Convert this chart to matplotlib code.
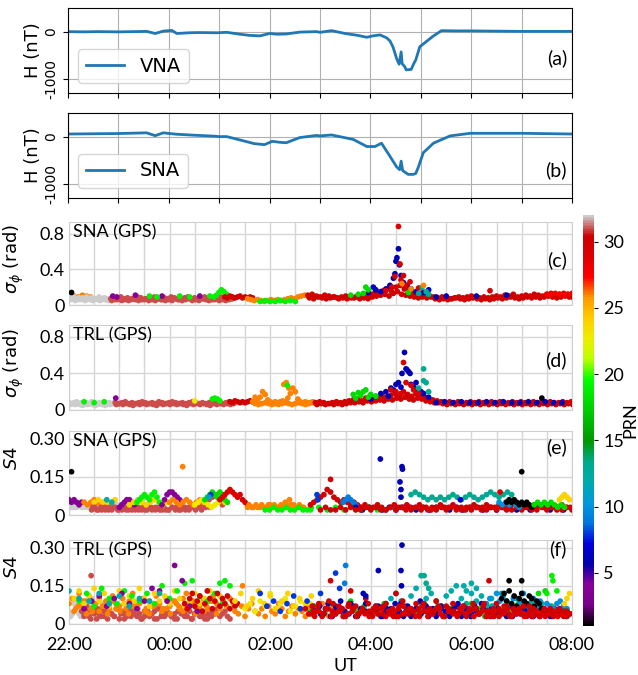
import matplotlib
matplotlib.use("Agg")
import matplotlib.pyplot as plt
from matplotlib.colors import Normalize
from matplotlib.cm import ScalarMappable

# ---------------- magnetometer data (hours after 22:00 UT, H in nT) -------------
vna_t = [0, 0.3, 0.6, 1.0, 1.3, 1.56, 1.73, 1.89, 2.06, 2.16, 2.4, 2.6, 2.95, 3.15, 3.41,
         3.6, 3.81, 4.0, 4.14, 4.33, 4.6, 4.93, 5.0, 5.23, 5.5, 5.75, 5.93, 6.05, 6.19, 6.32,
         6.39, 6.45, 6.52, 6.57, 6.61, 6.63, 6.68, 6.71, 6.81, 6.86, 6.9, 6.98, 7.11, 7.24,
         7.41, 7.7, 7.98, 8.5, 9.0, 9.5, 10.0]
vna_h = [0, -5, 0, -5, 0, 5, -40, 10, 25, -40, -25, -20, -25, -15, -55,
         -80, -90, -40, -55, -50, -10, 0, -15, 20, -40, -80, -120, -90, -70, -130,
         -200, -330, -570, -690, -430, -680, -740, -810, -800, -680, -600, -320, -210, -100,
         20, 15, 15, 10, 5, 5, 5]
sna_t = [0, 0.5, 1.0, 1.56, 1.73, 1.89, 2.06, 2.16, 2.5, 2.9, 3.0, 3.15, 3.41, 3.7, 3.9,
         4.05, 4.2, 4.33, 4.6, 4.93, 5.0, 5.23, 5.66, 5.93, 6.09, 6.22, 6.39, 6.52, 6.58,
         6.61, 6.64, 6.75, 6.85, 6.9, 6.95, 7.05, 7.25, 7.58, 7.98, 9.0, 10.0]
sna_h = [55, 60, 65, 80, 20, 80, 60, 50, 30, 10, 0, 0, -70, -150, -170,
         -100, -120, -130, -20, 25, 15, 35, -60, -210, -210, -140, -420, -640, -700,
         -520, -720, -800, -800, -780, -650, -340, -140, 15, 70, 70, 55]

# ---------------- scintillation tracks: (PRN, start hour, step [min], values x100) ----
# (c) SNA sigma_phi
c_tracks = [
    (26, 0.10, 5, [10, 9, 11, 10, 9]),
    (32, 0.00, 3, [8, 7, 9, 6, 8, 7, 6, 9, 7, 8, 6, 7, 9, 6, 8, 7, 6]),
    (32, 0.02, 3, [6, 8, 5, 7, 6, 8, 5, 7, 6, 5, 7, 6, 5, 7, 6, 5, 6]),
    (31, 0.83, 4, [7, 8, 6, 9, 7, 8, 6, 7, 9, 8, 6, 7, 8, 9, 7, 6, 8, 7, 9, 8, 6, 7, 8, 9, 7, 8, 6, 7, 9, 8, 7, 6, 8, 9, 7, 8, 7]),
    (31, 0.85, 4, [5, 6, 7, 5, 6, 5, 7, 6, 5, 6, 7, 5, 6, 5, 7, 6, 5, 6, 5, 7, 6, 5, 6, 7, 5, 6, 5, 7, 6, 5, 6, 7, 5, 6, 5, 6, 7]),
    (19, 2.88, 3, [9, 11, 14, 17, 15, 12, 9]),
    (30, 3.10, 3, [9, 8, 10, 9, 8, 9, 10, 8, 9, 8, 9, 8]),
    (26, 3.55, 4, [7, 6, 5, 6, 5, 4, 5, 6, 5, 6, 5, 6, 7, 8, 7, 9, 10, 11, 10, 9]),
    (19, 3.80, 6, [4, 5, 4, 4, 5, 4, 5, 4]),
    (30, 4.75, 5, [11, 12, 10, 9, 11, 10, 9, 8, 9, 10, 9, 8, 9, 10, 11,
                   12, 14, 13, 16, 18, 15, 20, 22, 18, 16, 14, 12, 13, 11, 10,
                   9, 8, 9, 8, 7, 8, 9, 8, 9, 10, 9, 8, 9, 8, 9,
                   10, 9, 11, 10, 12, 9, 10, 11, 10, 12, 11, 10, 12, 13, 11, 12, 13, 12, 11]),
    (30, 4.78, 5, [8, 7, 9, 8, 7, 8, 9, 7, 8, 7, 8, 9, 7, 8, 7,
                   9, 10, 11, 12, 10, 13, 15, 12, 11, 10, 9, 8, 9, 8, 9,
                   7, 6, 7, 6, 7, 8, 7, 6, 7, 8, 7, 6, 7, 6, 7,
                   8, 7, 8, 9, 8, 7, 8, 9, 8, 9, 8, 9, 10, 9, 8, 9, 10, 9, 8]),
    (28, 9.50, 5, [12, 11, 13, 12, 11, 12, 13]),
]
c_ev_t = [0.05, 0.87, 0.95, 1.32, 1.85, 2.6, 1.6, 1.75, 2.2, 2.4, 2.8,
          5.95, 6.05, 6.1, 6.2, 6.3, 6.38, 6.45, 6.48, 6.5, 6.52, 6.55, 6.57, 6.6, 6.65, 6.72, 6.8, 6.9, 7.05, 7.15,
          6.55, 6.58, 6.48, 6.65, 6.78, 6.7, 6.42, 6.3, 6.95, 6.6, 8.37,
          5.9, 5.95, 5.75, 5.6, 6.75, 5.85,
          7.02, 7.1, 6.95, 7.15, 7.05, 6.62, 6.8, 7.3, 7.5, 8.1, 8.7]
c_ev_v = [14, 10, 9, 11, 10, 10, 10, 9, 10, 9, 10,
          14, 20, 17, 15, 18, 22, 30, 35, 49, 53, 63, 45, 33, 25, 22, 18, 15, 14, 17,
          88, 46, 32, 33, 26, 22, 20, 16, 19, 28, 16,
          20, 17, 12, 11, 14, 13,
          20, 15, 13, 12, 22, 24, 18, 9, 10, 10, 11]
c_ev_p = [1, 4, 4, 4, 4, 4, 19, 19, 19, 19, 19,
          6, 6, 6, 6, 6, 6, 6, 6, 6, 6, 6, 6, 6, 6, 6, 6, 6, 6, 6,
          29, 29, 29, 29, 29, 29, 29, 29, 29, 29, 29,
          18, 18, 18, 18, 18, 18,
          13, 13, 13, 13, 26, 26, 26, 6, 6, 6, 6]

# (d) TRL sigma_phi
d_tracks = [
    (32, 0.00, 3, [8, 7, 8, 9, 7, 8, 6, 8, 7, 9, 8, 7, 8, 7, 8, 7, 8, 7, 8]),
    (32, 0.02, 3, [6, 7, 6, 7, 6, 5, 7, 6, 7, 6, 5, 6, 7, 6, 5, 7, 6, 7]),
    (31, 0.92, 4, [8, 7, 8, 9, 7, 8, 7, 8, 9, 8, 7, 8, 7, 9, 8, 7, 8, 9, 8, 7, 8, 7, 8, 9, 8, 7, 8, 7, 8, 9, 8, 8, 7, 8, 9, 8]),
    (31, 0.94, 4, [6, 7, 6, 7, 6, 5, 7, 6, 7, 6, 7, 6, 5, 7, 6, 7, 6, 7, 6, 7, 6, 5, 7, 6, 7, 6, 7, 6, 5, 7, 6, 7, 6, 7, 6, 7]),
    (30, 3.20, 3, [9, 8, 10, 9, 8, 9, 8, 9, 10, 9]),
    (26, 3.65, 3, [9, 8, 10, 14, 20, 17, 11, 9, 8, 9, 8, 9, 10, 9, 13, 18, 24, 20, 12, 9, 8, 9, 8, 8, 9, 8]),
    (26, 3.70, 4, [7, 6, 7, 8, 7, 6, 7, 6, 7, 8, 7, 6, 7, 8, 7, 6, 7, 8, 7]),
    (30, 4.90, 5, [8, 9, 8, 7, 8, 9, 8, 9, 10,
                   11, 12, 10, 13, 14, 12, 13, 15, 14, 16,
                   18, 16, 20, 17, 15, 18, 16, 14, 12, 11, 10,
                   9, 8, 9, 8, 9, 8, 8, 9, 8, 9, 8, 8, 9, 8, 9, 8, 8, 9, 8, 9, 8, 8, 9, 8, 9, 8, 9, 8, 8, 9, 8, 9]),
    (30, 4.93, 5, [6, 7, 6, 7, 6, 7, 6, 7, 8,
                   8, 9, 8, 10, 9, 10, 11, 10, 12, 11,
                   13, 12, 14, 12, 11, 13, 12, 10, 9, 8, 8,
                   7, 6, 7, 6, 7, 6, 7, 6, 7, 6, 7, 6, 7, 6, 7, 6, 7, 6, 7, 6, 7, 6, 7, 6, 7, 6, 7, 6, 7, 6, 7, 6]),
    (6, 7.30, 10, [8, 9, 8, 9, 8, 8, 9, 8, 9, 8, 8, 9, 8, 9, 8, 8]),
]
d_ev_t = [0.3, 0.5, 0.7, 0.93, 2.85, 2.9, 2.95, 3.0, 4.27, 4.32, 4.37, 3.7, 4.34, 2.5,
          6.0, 6.1, 6.2, 6.3, 6.35, 6.4, 6.45, 6.5, 6.55, 6.6, 6.62, 6.67, 6.7, 6.72, 6.75, 6.78, 6.8, 6.85, 6.9, 6.95, 7.0, 7.05, 7.15,
          6.65, 6.5, 6.7, 6.4, 6.8, 6.6, 6.85, 6.95,
          5.65, 5.75, 5.85, 5.9, 5.8, 6.0, 6.1, 5.7, 5.95,
          7.05, 7.05, 7.1, 6.95, 7.15, 9.4]
d_ev_v = [9, 8, 9, 13, 12, 13, 12, 10, 28, 30, 24, 14, 27, 10,
          12, 15, 18, 20, 15, 24, 22, 28, 30, 25, 40, 63, 45, 44, 42, 40, 28, 25, 30, 22, 20, 18, 14,
          52, 20, 30, 22, 27, 18, 22, 19,
          17, 19, 20, 22, 16, 17, 15, 13, 14,
          45, 32, 30, 24, 20, 13]
d_ev_p = [19, 19, 19, 4, 19, 19, 19, 19, 26, 26, 26, 26, 19, 23,
          6, 6, 6, 6, 6, 6, 6, 6, 6, 6, 6, 6, 6, 6, 6, 6, 6, 6, 6, 6, 6, 6, 6,
          29, 29, 29, 29, 29, 29, 29, 29,
          18, 18, 18, 18, 18, 18, 18, 18, 18,
          13, 13, 13, 13, 13, 1]

# (e) SNA S4
e_tracks = [
    (32, 0.00, 3, [4, 3, 5, 3, 4, 3, 5, 4, 3, 4, 5, 3, 4, 5, 4, 3, 4, 5, 3, 4, 3, 4]),
    (32, 0.02, 3, [3, 4, 3, 4, 5, 4, 3, 3, 4, 5, 4, 3, 3, 4, 3, 5, 3, 4, 4, 3, 4]),
    (4, 0.00, 3, [6, 5, 6, 5, 4, 5]),
    (26, 0.30, 4, [5, 4, 5, 6, 5, 4, 5]),
    (24, 0.50, 5, [5, 6, 5, 4, 5, 6]),
    (31, 0.45, 4, [2, 3, 2, 2, 3, 2, 2, 3, 2, 2, 3, 2, 2, 2, 3, 2, 2, 3, 2, 2, 3, 2, 2, 2, 3, 2, 2, 3, 2, 3, 3, 2, 3, 4, 5, 6, 7, 8, 6, 4]),
    (31, 0.47, 5, [3, 2, 3, 2, 3, 3, 2, 3, 2, 3, 3, 2, 3, 2, 3, 3, 2, 3, 2, 3, 3, 2, 3, 2, 3, 3, 2, 3, 3]),
    (4, 1.00, 3, [3, 4, 5, 6, 6, 5, 4]),
    (24, 1.20, 5, [4, 5, 6, 5, 4, 5, 6, 5, 4, 5]),
    (19, 1.35, 3, [5, 6, 7, 8, 7, 6, 8, 9, 7, 5]),
    (4, 1.85, 3, [4, 6, 8, 9, 9, 8, 7, 6, 5]),
    (26, 2.00, 4, [5, 6, 5, 4, 5, 6, 5, 4, 5, 6, 5]),
    (23, 2.50, 4, [4, 5, 6, 5, 4, 3, 4, 5, 6, 5]),
    (18, 2.70, 3, [6, 7, 8, 9, 8, 7, 9, 8, 6, 5]),
    (29, 3.00, 3, [6, 7, 8, 9, 10, 9, 8, 7, 8, 6, 5, 4]),
    (26, 3.55, 5, [3, 3, 4, 3, 3, 4, 3, 3, 4, 5, 6, 4, 3, 3]),
    (26, 3.58, 5, [4, 3, 3, 4, 3, 4, 4, 3, 3, 4, 4, 3, 4, 3]),
    (19, 3.90, 5, [2, 2, 3, 2, 2, 3, 2, 2, 3, 2, 2, 3]),
    (19, 4.80, 10, [2, 3, 2, 3, 2, 3, 2, 3, 2]),
    (30, 4.80, 4, [4, 5, 6, 7, 8, 10, 9, 7, 6, 5, 6, 5, 4, 5, 4, 3]),
    (9, 5.45, 3, [5, 6, 7, 6, 5, 4]),
    (6, 5.70, 8, [3, 2, 3, 3, 2, 3, 2, 3, 3, 2, 3, 2, 3, 3, 2, 3, 2, 3, 3, 2, 3, 2, 3, 3, 2, 3, 2, 3, 3, 2, 3, 2]),
    (13, 6.80, 5, [8, 9, 8, 7, 6, 7, 6, 7, 6, 7, 8, 7, 6, 7, 8, 7, 6, 7, 8, 9, 8, 7, 8, 9, 8]),
    (30, 5.80, 5, [3, 4, 3, 3, 4, 3, 2, 3, 4, 3, 3, 4, 3, 3, 4, 3, 2, 3, 3, 4, 3, 3, 4, 3, 3, 2, 3, 4, 3, 3, 4, 3, 3, 4, 3, 3, 4, 5, 4, 3, 4, 3, 3, 4, 3, 4, 3, 3, 4, 3, 3]),
    (30, 5.00, 6, [2, 3, 2, 2, 3, 2, 3, 2, 2, 3, 2, 3, 2, 2, 3, 2, 3, 2, 2, 3, 2, 3, 2, 2, 3, 2, 3, 2, 2, 3, 2, 3, 2, 2, 3, 2, 3, 2, 2, 3, 2, 3, 2, 2, 3, 2, 3, 2, 2, 3, 2]),
    (10, 8.55, 4, [5, 4, 5, 4, 5, 4, 3]),
    (1, 8.70, 3, [5, 6, 5, 6, 5, 4, 5, 4, 5, 4, 3, 4]),
    (18, 9.25, 4, [4, 5, 4, 5, 4, 5, 4, 3, 4, 3]),
    (24, 9.75, 3, [6, 7, 8, 7, 6]),
]
e_ev_t = [0.05, 0.75, 0.85, 2.26, 2.82, 2.78, 4.93, 4.95, 5.2,
          6.19, 6.62, 6.63, 6.6, 6.6, 6.58, 7.78, 8.57, 9.0]
e_ev_v = [17, 6, 5, 19, 8, 7, 8, 6, 14,
          22, 19, 18, 10, 7, 13, 6, 9, 17]
e_ev_p = [1, 12, 12, 26, 8, 11, 8, 8, 30,
          6, 6, 6, 6, 6, 6, 7, 29, 1]

# (f) TRL S4
f_tracks = [
    (32, 0.00, 2, [5, 3, 4, 8, 10, 7, 4, 3, 6, 9, 5, 3, 4, 7, 10, 8, 5, 3, 4, 6, 8, 5, 3, 4, 7, 5]),
    (31, 0.25, 3, [5, 4, 7, 3, 6, 5, 2, 4, 6, 3, 5, 7, 4, 3, 6, 2, 5, 4, 3, 6, 5, 7, 3, 4, 2, 5, 6, 3, 4, 5,
                   2, 6, 4, 3, 5, 7, 3, 4, 2, 5, 6, 4, 3, 5, 2, 4, 6, 3, 5, 4, 2, 3, 5, 4, 6, 3, 4, 5, 3, 2]),
    (31, 0.30, 4, [3, 5, 2, 4, 6, 3, 5, 2, 4, 3, 6, 4, 2, 5, 3, 4, 6, 2, 3, 5, 4, 2, 6, 3, 5, 4, 3, 2, 5, 4,
                   3, 6, 2, 4, 5, 3, 2, 4, 3, 5]),
    (26, 0.00, 4, [8, 10, 6, 12, 7, 9, 11, 5, 8, 10, 7, 9, 6, 11, 8, 7, 10, 6, 9, 12, 7, 8, 10, 6, 9,
                   7, 11, 8, 6, 10, 7, 9, 8, 6, 10, 12, 7, 9, 6, 8, 10, 7, 9, 11, 8, 6, 9, 7, 10, 8]),
    (26, 0.10, 5, [5, 7, 9, 4, 6, 8, 5, 7, 4, 9, 6, 5, 8, 4, 7, 6, 9, 5, 4, 7, 8, 5, 6, 4, 9, 7, 5, 6, 8, 4,
                   7, 5, 6, 9, 4]),
    (24, 0.10, 6, [10, 13, 8, 11, 14, 9, 12, 7, 10, 13, 8, 11, 9, 14, 10, 7, 12, 9, 11, 8, 13, 10, 7, 9, 12, 8, 10, 13, 9, 11]),
    (19, 0.20, 9, [9, 12, 7, 14, 10, 8, 13, 11, 9, 12, 8, 15, 10, 13, 16, 17, 11, 9, 12, 8]),
    (4, 0.30, 9, [6, 9, 11, 7, 10, 12, 8, 6, 9, 14, 13, 9, 23, 17, 7, 5]),
    (12, 0.00, 12, [13, 10, 9, 12, 8, 11, 7, 10, 9, 12]),
    (30, 2.30, 3, [8, 6, 10, 12, 7, 9, 11, 5, 8, 13, 10, 6, 9, 12, 7, 10, 8, 11, 6, 9, 7, 8]),
    (26, 3.30, 4, [5, 4, 7, 3, 6, 8, 5, 4, 6, 3, 7, 5, 4, 8, 6, 3, 5, 7, 4, 6, 5, 3, 7, 4, 6, 5, 8, 4, 3, 6]),
    (23, 3.50, 6, [6, 8, 5, 9, 7, 12, 6, 8, 10, 5, 7, 9, 6, 8]),
    (24, 3.30, 7, [9, 12, 7, 10, 13, 8, 11, 6, 9, 12, 7, 10, 8, 11]),
    (8, 3.80, 8, [12, 7, 9, 5, 8, 11, 6, 9, 7, 12]),
    (18, 4.80, 8, [5, 7, 4, 8, 6, 3, 9, 5, 7, 4, 6, 8, 5, 3, 7, 6, 4, 8, 5, 7, 3, 6, 4, 5, 8, 6, 3, 7, 5, 4, 6, 8, 5, 9, 12, 13, 7, 5, 6]),
    (12, 6.20, 6, [6, 8, 10, 12, 9, 7, 11, 14, 8, 10, 12, 9, 7, 11, 13, 15, 10, 8, 12, 9, 11, 7, 10, 8, 12, 9, 7, 10, 8, 6, 9, 7, 8]),
    (6, 4.90, 5, [5, 7, 4, 8, 3, 6, 9, 5, 4, 7, 3, 6, 8, 4, 5, 7, 3, 6, 4, 8, 5, 3, 7, 4, 6, 9, 5, 3, 6, 4,
                  7, 5, 3, 6, 8, 4, 5, 3, 7, 4, 6, 5, 3, 7, 4, 5, 8, 3, 6, 4, 5, 7, 3, 6, 4, 5, 3, 6, 4, 5, 3]),
    (6, 5.00, 6, [4, 6, 3, 7, 5, 4, 8, 3, 6, 5, 4, 7, 3, 5, 6, 4, 8, 5, 3, 6, 4, 7, 5, 3, 6, 4, 5, 7, 3, 6,
                  4, 5, 8, 3, 6, 4, 5, 3, 7, 4, 6, 5, 3, 4, 6, 5, 3, 4, 6, 5]),
    (10, 8.30, 4, [8, 10, 7, 12, 9, 11, 6, 8, 10, 7, 9, 12, 8, 6, 10, 7, 9, 5, 8, 7, 6, 8, 9, 7, 6]),
    (1, 8.60, 3, [10, 12, 9, 13, 8, 11, 7, 10, 12, 9, 8, 11, 10, 7, 9, 8, 6]),
    (30, 4.70, 4, [6, 4, 7, 5, 8, 3, 6, 9, 5, 4, 7, 6, 3, 8, 5, 7, 4, 6, 10, 5, 3, 7, 6, 4, 8, 5, 6, 3, 7, 9,
                   4, 6, 5, 8, 3, 7, 5, 6, 4, 9, 6, 3, 7, 5, 8, 4, 6, 7, 3, 5, 8, 6, 4, 7, 5, 3, 6, 8, 4, 5,
                   7, 3, 6, 5, 4, 7, 3, 5, 6, 4, 3, 5, 4, 6, 3, 5, 4, 3, 5, 4]),
    (29, 4.80, 5, [4, 3, 5, 4, 6, 3, 4, 5, 3, 4, 6, 3, 5, 4, 3, 5, 4, 6, 3, 4, 5, 3, 4, 5, 6, 3, 4, 5, 3, 4, 6,
                   4, 3, 5, 4, 3, 5, 4, 6, 3, 4, 5, 3, 4, 5, 3, 4, 6, 3, 4, 5, 3, 4, 3, 5, 4, 3, 4, 5, 3, 4, 3]),
    (30, 4.85, 6, [5, 7, 4, 6, 8, 5, 3, 7, 6, 4, 5, 8, 6, 4, 7, 5, 3, 6, 7, 4, 5, 6, 8, 4, 5, 7, 3, 6, 5, 4,
                   7, 5, 6, 4, 8, 5, 3, 6, 7, 4, 5, 6, 4, 7, 5, 3, 6, 5, 4, 6, 5, 4]),
]
f_ev_t = [0.44, 3.0, 3.1, 3.2, 3.45,
          5.5, 5.3, 5.48, 5.38, 6.15, 6.62, 6.6, 6.61, 5.85, 5.9,
          7.0, 7.06, 7.1, 7.15, 5.2, 8.35, 5.6, 6.5,
          7.85, 8.0, 7.9, 8.1, 8.75, 9.0, 9.6, 9.62, 9.5, 9.7, 9.95, 9.9, 9.85]
f_ev_v = [19, 16, 17, 15, 15,
          23, 20, 16, 14, 21, 31, 21, 15, 12, 11,
          19, 19, 16, 14, 17, 17, 13, 12,
          15, 16, 13, 14, 17, 17, 19, 17, 12, 13, 12, 10, 8]
f_ev_p = [31, 19, 19, 19, 26,
          9, 8, 9, 8, 6, 6, 6, 6, 6, 6,
          13, 13, 13, 13, 30, 30, 30, 30,
          12, 12, 12, 12, 1, 1, 19, 19, 19, 19, 24, 24, 24]

hour_ticks = [0, 2, 4, 6, 8, 10]
hour_labels = ["22:00", "00:00", "02:00", "04:00", "06:00", "08:00"]
prn_ticks = [5, 10, 15, 20, 25, 30]

# ---------------- figure ----------------
W, H = 638, 675
fig = plt.figure(figsize=(W / 100, H / 100), dpi=100)
cmap = plt.get_cmap("nipy_spectral")
norm = Normalize(vmin=1, vmax=32)
LAT = "Lato"
MS = 17


def px_axes(x0, y0, x1, y1):
    return fig.add_axes([x0 / W, 1 - y1 / H, (x1 - x0) / W, (y1 - y0) / H])


# magnetometer panels
for (t, h, name, lab, y0, y1) in [(vna_t, vna_h, "VNA", "(a)", 8, 93),
                                  (sna_t, sna_h, "SNA", "(b)", 113, 198)]:
    ax = px_axes(68, y0, 572, y1)
    ax.plot(t, h, color="#1f77b4", lw=2, label=name)
    ax.set_xlim(0, 10)
    ax.set_ylim(-1300, 500)
    ax.set_xticks(range(0, 11))
    ax.set_xticklabels([])
    ax.set_yticks([-1000, 0])
    ax.set_yticklabels(["-1000", "0"], rotation=90, va="center", fontsize=10)
    ax.grid(True, color="#b0b0b0", lw=0.8)
    ax.set_axisbelow(True)
    ax.set_ylabel("H (nT)", fontsize=13, labelpad=2)
    ax.legend(loc="lower left", fontsize=14, handlelength=2.0, framealpha=0.8)
    ax.text(0.99, 0.41 if lab == "(a)" else 0.33, lab, transform=ax.transAxes,
            ha="right", va="center", fontsize=14, family=LAT)
    for s in ax.spines.values():
        s.set_color("black")


def scint_panel(y0, y1, tracks, ev_t, ev_v, ev_p, title, lab, laby, ylim, yticks, ylabels,
                ylabel, lab_coords, bottom=False):
    ax = px_axes(69, y0, 572, y1)
    for prn, t0, step, vals in tracks:
        ts = [t0 + i * step / 60.0 for i in range(len(vals))]
        vs = [v / 100.0 for v in vals]
        ax.scatter(ts, vs, c=[prn] * len(vals), cmap=cmap, norm=norm, s=MS,
                   edgecolors="none", zorder=3)
    ax.scatter(ev_t, [v / 100.0 for v in ev_v], c=ev_p, cmap=cmap, norm=norm, s=MS,
               edgecolors="none", zorder=4)
    ax.set_xlim(0, 10)
    ax.set_ylim(*ylim)
    ax.set_xticks(hour_ticks)
    ax.set_xticks([i * 0.5 for i in range(21)], minor=True)
    ax.set_yticks(yticks)
    ax.set_yticklabels(ylabels, fontsize=13, family=LAT)
    if bottom:
        ax.set_xticklabels(hour_labels, fontsize=13, family=LAT)
        ax.tick_params(axis="x", pad=9)
        ax.set_xlabel("UT", fontsize=13, family=LAT)
        ax.xaxis.set_label_coords(0.549, -0.40)
    else:
        ax.set_xticklabels([])
    ax.tick_params(which="both", length=0)
    ax.tick_params(axis="y", pad=3)
    ax.grid(True, which="both", axis="x", color="#d6d6d6", lw=1)
    ax.grid(True, which="major", axis="y", color="#d6d6d6", lw=1)
    ax.set_axisbelow(True)
    for s in ax.spines.values():
        s.set_color("#d0d0d0")
    ax.set_ylabel(ylabel, fontsize=13)
    ax.yaxis.set_label_coords(*lab_coords)
    ax.text(0.008, 0.97, title, transform=ax.transAxes, ha="left", va="top",
            fontsize=13, family=LAT, zorder=6)
    ax.text(0.99, laby, lab, transform=ax.transAxes, ha="right", va="center",
            fontsize=14, family=LAT, zorder=6)
    return ax


sig_ticks = [0, 0.4, 0.8]
sig_labels = ["0", "0.4", "0.8"]
s4_ticks = [0, 0.15, 0.30]
s4_labels = ["0", "0.15", "0.30"]
scint_panel(222, 305, c_tracks, c_ev_t, c_ev_v, c_ev_p, "SNA (GPS)", "(c)", 0.54,
            (0, 0.93), sig_ticks, sig_labels, r"$\sigma_\phi$ (rad)", (-0.085, 0.55))
scint_panel(325, 410, d_tracks, d_ev_t, d_ev_v, d_ev_p, "TRL (GPS)", "(d)", 0.59,
            (0, 0.93), sig_ticks, sig_labels, r"$\sigma_\phi$ (rad)", (-0.085, 0.55))
scint_panel(431, 515, e_tracks, e_ev_t, e_ev_v, e_ev_p, "SNA (GPS)", "(e)", 0.81,
            (0, 0.33), s4_ticks, s4_labels, r"$S4$", (-0.095, 0.68))
scint_panel(540, 624, f_tracks, f_ev_t, f_ev_v, f_ev_p, "TRL (GPS)", "(f)", 0.89,
            (0, 0.33), s4_ticks, s4_labels, r"$S4$", (-0.095, 0.68), bottom=True)

# colorbar
cax = px_axes(583, 215, 594, 626)
cb = fig.colorbar(ScalarMappable(norm=norm, cmap=cmap), cax=cax, ticks=prn_ticks)
cb.outline.set_visible(False)
cb.ax.tick_params(labelsize=13, length=3)
for t in cb.ax.get_yticklabels():
    t.set_family(LAT)
cb.set_label("PRN", fontsize=13, family=LAT, labelpad=-1)

fig.savefig("out.png", dpi=100)
